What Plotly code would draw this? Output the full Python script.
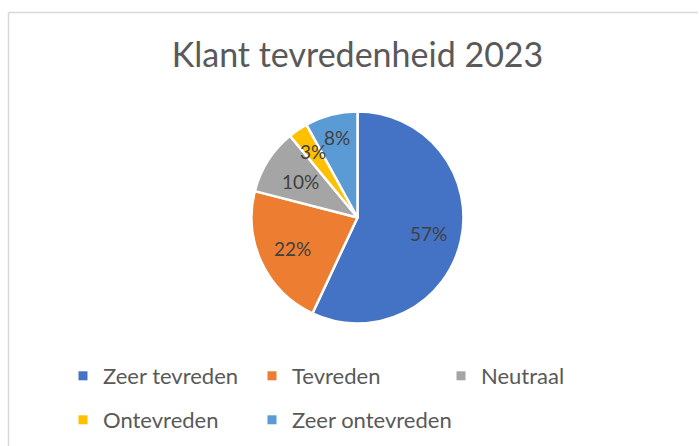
import math
import plotly.graph_objects as go

W, H = 699, 446

title_text = "Klant tevredenheid 2023"
categories = ["Zeer tevreden", "Tevreden", "Neutraal", "Ontevreden", "Zeer ontevreden"]
values = [57, 22, 10, 3, 8]
colors = ["#4472C4", "#ED7D31", "#A5A5A5", "#FFC000", "#5B9BD5"]

# layout constants (pixels)
CX, CY, R = 357.5, 217.5, 104.5
RD = 106  # domain half-size (plotly trims a little for the outline)
label_r = [0.70, 0.69, 0.645, 0.76, 0.79]
FONT = "Lato, 'Open Sans', sans-serif"
TXT = "#595959"
LEG_X0, LEG_COLW = 63, 189
LEG_ROWS_Y = [376, 420]
LEG_COLS = 3

fig = go.Figure()
fig.add_trace(go.Pie(
    labels=categories, values=values, sort=False, direction="clockwise", rotation=0,
    marker=dict(colors=colors, line=dict(color="white", width=2.5)),
    textinfo="none", hoverinfo="label+percent", showlegend=False,
    domain=dict(x=[(CX - RD) / W, (CX + RD) / W], y=[1 - (CY + RD) / H, 1 - (CY - RD) / H]),
))

# percent labels positioned from the data (angle of each slice midpoint)
total = sum(values)
cum = 0
annotations = []
for v, rf in zip(values, label_r):
    mid = (cum + v / 2) / total * 2 * math.pi
    cum += v
    px = CX + rf * R * math.sin(mid)
    py = CY - rf * R * math.cos(mid)
    annotations.append(dict(
        x=px / W, y=1 - py / H, xref="paper", yref="paper", showarrow=False,
        text=f"{round(v / total * 100)}%", font=dict(family=FONT, size=19, color="#404040"),
        xanchor="center", yanchor="middle",
    ))

# legend proxies, one small legend per entry laid out in a grid
legend_layout = {}
for i, (c, col) in enumerate(zip(categories, colors)):
    lid = "legend" if i == 0 else f"legend{i + 1}"
    fig.add_trace(go.Scatter(
        x=[None], y=[None], mode="markers", name=c,
        marker=dict(symbol="square", size=9, color=col),
        legend=lid,
    ))
    row, colidx = divmod(i, LEG_COLS)
    legend_layout[lid] = dict(
        x=(LEG_X0 + colidx * LEG_COLW) / W, y=1 - LEG_ROWS_Y[row] / H,
        orientation="h", xanchor="left", yanchor="middle",
        font=dict(family=FONT, size=22, color=TXT),
        bgcolor="rgba(0,0,0,0)", itemclick=False, itemdoubleclick=False,
    )

fig.update_layout(
    width=W, height=H, margin=dict(l=0, r=0, t=0, b=0),
    paper_bgcolor="white", plot_bgcolor="white",
    title=dict(text=title_text, x=CX / W, xanchor="center", y=1 - 55.5 / H, yanchor="middle",
               yref="container", font=dict(family=FONT, size=34, color=TXT)),
    xaxis=dict(visible=False), yaxis=dict(visible=False),
    annotations=annotations,
    shapes=[
        dict(type="line", xref="paper", yref="paper", x0=8.5 / W, x1=698 / W, y0=1 - 12.5 / H, y1=1 - 12.5 / H,
             line=dict(color="#D9D9D9", width=1.5)),
        dict(type="line", xref="paper", yref="paper", x0=8.5 / W, x1=8.5 / W, y0=1 - 12.5 / H, y1=0,
             line=dict(color="#D9D9D9", width=1.5)),
    ],
    **legend_layout,
)

fig.write_html("out.html", config={"displayModeBar": False},
               post_script="document.body.style.margin='0';")
